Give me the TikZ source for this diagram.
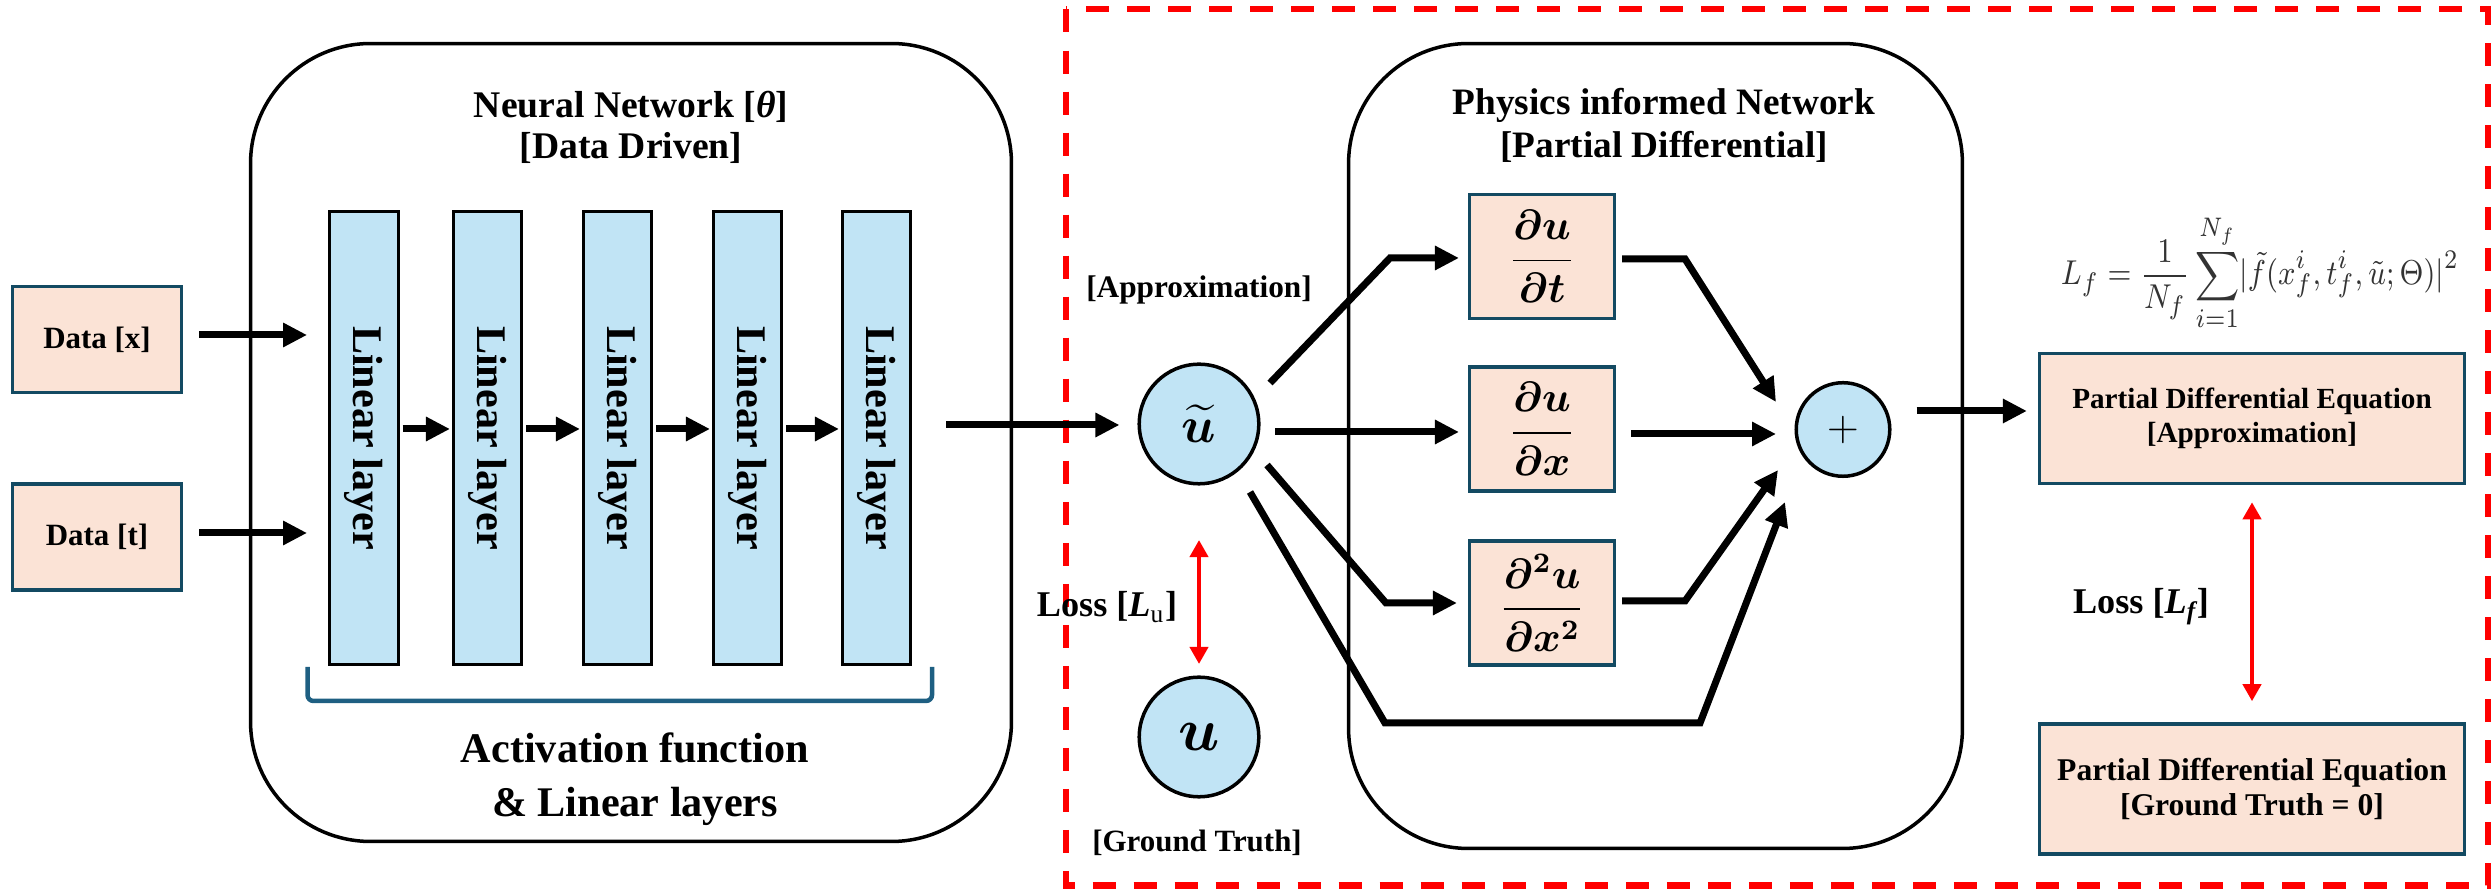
\documentclass[tikz,border=0pt]{standalone}
\usepackage{amsmath,bm}
\usepackage{fontspec}
\setmainfont{Liberation Serif}
\usetikzlibrary{arrows.meta,calc}

\definecolor{peach}{HTML}{FBE3D6}
\definecolor{lblue}{HTML}{C1E4F5}
\definecolor{tealb}{HTML}{134A62}
\definecolor{bracketc}{HTML}{1E5F82}

\newcommand{\setfsz}[2]{\fontsize{#1}{#2}\selectfont}

\begin{document}
\begin{tikzpicture}[x=0.01cm,y=-0.01cm,
  databox/.style={draw=tealb, line width=0.035cm, fill=peach, inner sep=0pt, align=center},
  layerbox/.style={draw=black, line width=0.03cm, fill=lblue, inner sep=0pt,
                   minimum width=0.68cm, minimum height=4.53cm},
  panel/.style={draw=black, line width=0.035cm, rounded corners=1.2cm, inner sep=0pt},
  bubble/.style={circle, draw=black, line width=0.035cm, fill=lblue, inner sep=0pt},
  derivbox/.style={databox, minimum width=1.445cm, minimum height=1.235cm},
  pdebox/.style={databox, minimum width=4.245cm, minimum height=1.3cm},
  lbl/.style={inner sep=0pt, align=center, font=\bfseries},
  arr/.style={line width=0.07cm, -{Triangle[length=0.24cm,width=0.23cm]}},
  lossarr/.style={red, line width=0.04cm,
    {Triangle[length=0.17cm,width=0.18cm]}-{Triangle[length=0.17cm,width=0.18cm]}},
]
\useasboundingbox (0,0) rectangle (2491,889);

% ---------- data-driven part ----------
\node[panel, minimum width=7.605cm, minimum height=7.975cm] (nn) at (631,442.5) {};
\node[lbl, font=\bfseries\setfsz{10.7}{11.7}] (nntitle) at (631,127)
  {Neural Network [{\itshape θ}]\\[0pt][Data Driven]};

\node[databox, minimum width=1.685cm, minimum height=1.055cm,
      font=\bfseries\setfsz{8.8}{10}] (datax) at (97,339.5) {Data [x]};
\node[databox, minimum width=1.685cm, minimum height=1.055cm,
      font=\bfseries\setfsz{8.8}{10}] (datat) at (97,537) {Data [t]};

\foreach \i/\xx in {1/364,2/487.5,3/617.5,4/747.5,5/876.5}
  \node[layerbox] (l\i) at (\xx,438)
    {\rotatebox{-90}{\bfseries\setfsz{12}{14}Linear layer}};

\foreach \a/\b in {1/2,2/3,3/4,4/5}
  \draw[arr] ($(l\a.east)+(3,-9)$) -- ($(l\b.west)+(-2,-9)$);

\draw[arr] ($(datax.east)+(16,-4.5)$) -- ($(datax.east)+(124,-4.5)$);
\draw[arr] ($(datat.east)+(16,-4)$) -- ($(datat.east)+(124,-4)$);

\draw[bracketc, line width=0.045cm, rounded corners=0.06cm]
  (307.5,667) -- (307.5,701) -- (932,701) -- (932,667);
\node[lbl, font=\bfseries\setfsz{12}{15.4}] (actlbl) at (635,779)
  {Activation function\\[0pt]\& Linear layers};

% ---------- physics-informed part ----------
\draw[red, line width=0.06cm, dash pattern=on 0.23cm off 0.18cm]
  (1066,9.5) rectangle (2488,885.5);

\node[panel, minimum width=6.135cm, minimum height=8.045cm] (pin) at (1655.5,446) {};
\node[lbl, font=\bfseries\setfsz{10.6}{12.2}] (pintitle) at (1664,125)
  {Physics informed Network\\[0pt][Partial Differential]};

\node[bubble, minimum size=1.195cm, font=\setfsz{15}{17}] (ut) at (1199,424)
  {$\boldsymbol{\widetilde{u}}$};
\node[bubble, minimum size=1.195cm, font=\setfsz{16}{18}] (u) at (1199,737)
  {$\boldsymbol{u}$};
\node[lbl, font=\bfseries\setfsz{8.9}{10}] (approxlbl) at (1199,290) {[Approximation]};
\node[lbl, font=\bfseries\setfsz{8.8}{10}] (gtlbl) at (1197,843) {[Ground Truth]};
\node[lbl, font=\bfseries\setfsz{10.3}{12}] (lulbl) at (1107,607)
  {Loss [{\itshape L}\textsubscript{\normalfont u}]};

\node[derivbox, font=\setfsz{12}{14}] (dt) at (1542,256.5)
  {$\boldsymbol{\dfrac{\partial u}{\partial t}}$};
\node[derivbox, font=\setfsz{12}{14}] (dx) at (1542,429)
  {$\boldsymbol{\dfrac{\partial u}{\partial x}}$};
\node[derivbox, font=\setfsz{12}{14}] (dxx) at (1542,603)
  {$\boldsymbol{\dfrac{\partial^2 u}{\partial x^2}}$};

\node[bubble, minimum size=0.935cm, font=\setfsz{12}{14}] (plus) at (1843,429.5) {$+$};

\node[pdebox, font=\bfseries\setfsz{8.3}{9.7}] (pdea) at (2252,418.5)
  {Partial Differential Equation\\[0pt][Approximation]};
\node[pdebox, font=\bfseries\setfsz{9}{10}] (pdeg) at (2252,789)
  {Partial Differential Equation\\[0pt][Ground Truth = 0]};

\node[inner sep=0pt, text=black!80, font=\setfsz{9.5}{12}] (lf) at (2260,273)
  {\scalebox{0.945}[1.09]{$\displaystyle L_f=\frac{1}{N_f}\sum_{i=1}^{N_f}\lvert\tilde{f}(x_f^i,t_f^i,\tilde{u};\Theta)\rvert^2$}};
\node[lbl, font=\bfseries\setfsz{10.3}{12}] (lflbl) at (2141,607)
  {Loss [{\itshape L\textsubscript{f}}]};

% ---------- connectors ----------
\draw[arr] ($(l5.east)+(34,-13)$) -- ($(ut.west)+(-18,1)$);

\draw[arr] ($(ut)+(71,-41)$) -- ($(dt.west)+(-78,1.5)$) -- ($(dt.west)+(-9,1.5)$);
\draw[arr] ($(ut)+(76,8)$) -- ($(dx.west)+(-9,3)$);
\draw[arr] ($(ut)+(68,41)$) -- ($(dxx.west)+(-82,0)$) -- ($(dxx.west)+(-11,0)$);
\draw[arr] ($(ut)+(51,68)$) -- ($(dxx.west)+(-83,120)$)
           -- ($(plus)+(-143,293.5)$) -- ($(plus)+(-58,72.5)$);

\draw[arr] ($(dt.east)+(6,2.5)$) -- ($(dt.east)+(69,2.5)$) -- ($(plus)+(-67,-27.5)$);
\draw[arr] ($(dx.east)+(15,5)$) -- ($(plus)+(-67,4.5)$);
\draw[arr] ($(dxx.east)+(6,-2)$) -- ($(dxx.east)+(69,-2)$) -- ($(plus)+(-65,40.5)$);

\draw[arr] ($(plus.east)+(25,-18.5)$) -- ($(pdea.west)+(-11,-7.5)$);

\draw[lossarr] ($(ut.south)+(0,54.5)$) -- ($(u.north)+(0,-11.5)$);
\draw[lossarr] ($(pdea.south)+(0,17)$) -- ($(pdeg.north)+(0,-21)$);

\end{tikzpicture}
\end{document}
